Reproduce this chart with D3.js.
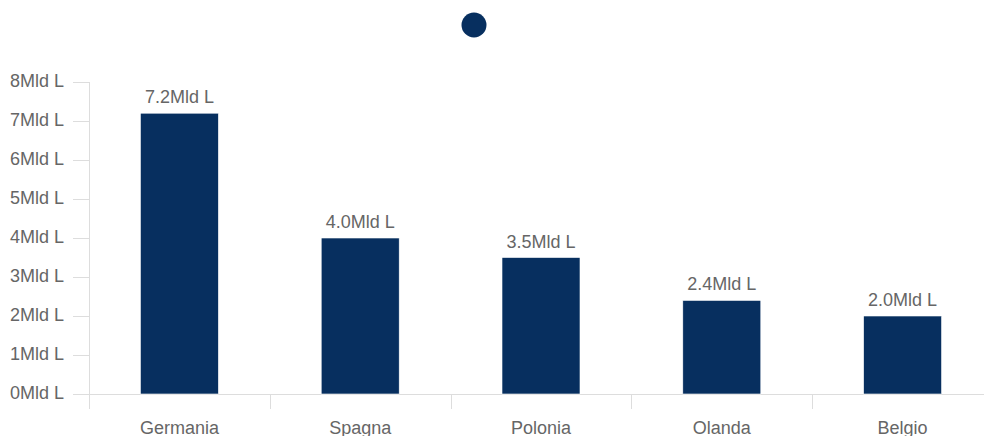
<!DOCTYPE html>
<html><head><meta charset="utf-8">
<script src="https://cdn.jsdelivr.net/npm/d3@7"></script>
<style>body{margin:0;background:#fff;}svg{display:block;font-family:"Liberation Sans",Arial,sans-serif;}</style>
</head><body>
<svg id="c" width="984" height="436"></svg>
<script>
const categories = ["Germania","Spagna","Polonia","Olanda","Belgio"];
const values = [7.2, 4.0, 3.5, 2.4, 2.0];
const yTicks = [0,1,2,3,4,5,6,7,8];
const unit = "Mld L";

const svg = d3.select("#c");
const x = d3.scaleBand().domain(categories).range([89, 993]).paddingInner(0).paddingOuter(0);
const y = d3.scaleLinear().domain([0, 8]).range([394, 82]);
const barW = 78;

// legend
svg.append("circle").attr("cx", 474).attr("cy", 25).attr("r", 12.5).attr("fill", "#072f5f");

// y axis
const ya = svg.append("g");
ya.append("line").attr("x1", 89.5).attr("x2", 89.5).attr("y1", 82).attr("y2", 409).attr("stroke", "#ddd");
ya.selectAll("line.t").data(yTicks).join("line").attr("class","t")
  .attr("x1", 73).attr("x2", 89).attr("y1", d => Math.round(y(d)) + 0.5).attr("y2", d => Math.round(y(d)) + 0.5)
  .attr("stroke", "#ddd");
ya.selectAll("text").data(yTicks).join("text")
  .attr("x", 64).attr("y", d => y(d) + 5).attr("text-anchor", "end")
  .attr("font-size", 18).attr("fill", "#666").text(d => d + unit);

// x axis
svg.append("line").attr("x1", 89).attr("x2", 984).attr("y1", 394.5).attr("y2", 394.5).attr("stroke", "#ddd");
const xt = categories.map(c => x(c)).concat([x.range()[1]]);
svg.selectAll("line.xt").data(xt).join("line").attr("class","xt")
  .attr("x1", d => Math.round(d) + 0.5).attr("x2", d => Math.round(d) + 0.5).attr("y1", 394).attr("y2", 409)
  .attr("stroke", "#ddd");
svg.selectAll("text.xl").data(categories).join("text").attr("class","xl")
  .attr("x", d => x(d) + x.bandwidth() / 2).attr("y", 434).attr("text-anchor", "middle")
  .attr("font-size", 18).attr("fill", "#666").text(d => d);

// bars
const data = categories.map((c, i) => ({c, v: values[i]}));
svg.selectAll("rect.bar").data(data).join("rect").attr("class","bar")
  .attr("x", d => x(d.c) + x.bandwidth() / 2 - barW / 2).attr("width", barW)
  .attr("y", d => y(d.v)).attr("height", d => y(0) - y(d.v))
  .attr("fill", "#072f5f").attr("stroke", "#fff").attr("stroke-width", 0.6);

svg.selectAll("text.vl").data(data).join("text").attr("class","vl")
  .attr("x", d => x(d.c) + x.bandwidth() / 2).attr("y", d => y(d.v) - 10)
  .attr("text-anchor", "middle").attr("font-size", 18).attr("fill", "#666")
  .text(d => d.v.toFixed(1) + unit);
</script>
</body></html>
